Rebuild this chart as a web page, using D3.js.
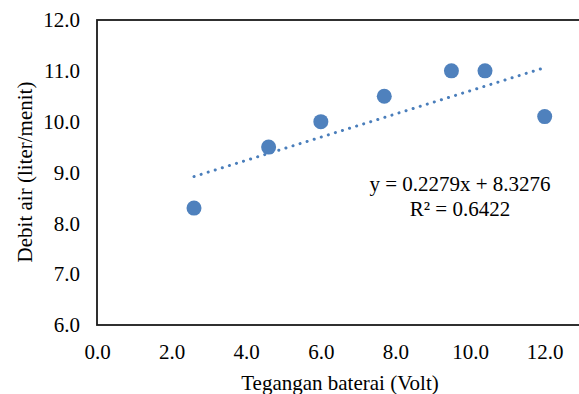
<!DOCTYPE html>
<html>
<head>
<meta charset="utf-8">
<script src="https://cdn.jsdelivr.net/npm/d3@7"></script>
<style>
  body { margin: 0; background: #fff; }
  svg text { font-family: "Liberation Serif", "Times New Roman", "DejaVu Serif", serif !important; fill: #000; }
</style>
</head>
<body>
<div id="main"></div>
<script>
// data
const tegangan = [2.6, 4.6, 6.0, 7.7, 9.5, 10.4, 12.0]
const debit = [8.3, 9.5, 10.0, 10.5, 11.0, 11.0, 10.1]
const xTicks = [0, 2, 4, 6, 8, 10, 12]
const yTicks = [6, 7, 8, 9, 10, 11, 12]
const slope = 0.2279
const intercept = 8.3276
const rSquared = 0.6422

const ctx = {
    w: 579,
    h: 394,
    left: 97,
    top: 20,
    bottom: 325,
    right: 582,
    fs: 21
}

let svg = d3.select('#main').append('svg')
    .attr('width', ctx.w)
    .attr('height', ctx.h)

let xScale = d3.scaleLinear().domain([0, 13]).range([ctx.left, ctx.right])
let yScale = d3.scaleLinear().domain([6, 12]).range([ctx.bottom, ctx.top])

// frame
svg.append('rect')
    .attr('x', ctx.left)
    .attr('y', ctx.top)
    .attr('width', ctx.right - ctx.left)
    .attr('height', ctx.bottom - ctx.top)
    .attr('fill', 'none')
    .attr('stroke', '#1a1a1a')
    .attr('stroke-width', 1.8)

// axes (labels only, no tick marks)
let xAxis = svg.append('g')
    .attr('transform', `translate(0,${ctx.bottom})`)
    .call(d3.axisBottom(xScale).tickValues(xTicks).tickFormat(d3.format('.1f')).tickSize(0).tickPadding(19))
xAxis.attr('font-family', null).attr('font-size', ctx.fs)
xAxis.select('.domain').remove()

let yAxis = svg.append('g')
    .attr('transform', `translate(${ctx.left},0)`)
    .call(d3.axisLeft(yScale).tickValues(yTicks).tickFormat(d3.format('.1f')).tickSize(0).tickPadding(17))
yAxis.attr('font-family', null).attr('font-size', ctx.fs)
yAxis.select('.domain').remove()

// trendline
let x0 = d3.min(tegangan), x1 = d3.max(tegangan)
svg.append('line')
    .attr('x1', xScale(x0))
    .attr('y1', yScale(slope * x0 + intercept))
    .attr('x2', xScale(x1))
    .attr('y2', yScale(slope * x1 + intercept))
    .attr('stroke', '#4a7ebb')
    .attr('stroke-width', 3)
    .attr('stroke-linecap', 'round')
    .attr('stroke-dasharray', '0.1 7.3')

// points
svg.selectAll('circle')
    .data(tegangan.map((t, i) => ({ x: t, y: debit[i] })))
    .join('circle')
    .attr('cx', d => xScale(d.x))
    .attr('cy', d => yScale(d.y))
    .attr('r', 7.5)
    .attr('fill', '#4f81bd')

// equation
svg.append('text')
    .attr('x', 460)
    .attr('y', 191)
    .attr('text-anchor', 'middle')
    .attr('font-size', ctx.fs)
    .text(`y = ${slope}x + ${intercept}`)
svg.append('text')
    .attr('x', 460)
    .attr('y', 216)
    .attr('text-anchor', 'middle')
    .attr('font-size', ctx.fs)
    .text(`R² = ${rSquared}`)

// axis titles
svg.append('text')
    .attr('x', 340)
    .attr('y', 390)
    .attr('text-anchor', 'middle')
    .attr('font-size', ctx.fs)
    .text('Tegangan baterai (Volt)')

svg.append('text')
    .attr('transform', 'translate(32,172) rotate(-90)')
    .attr('text-anchor', 'middle')
    .attr('font-size', ctx.fs)
    .text('Debit air (liter/menit)')
</script>
</body>
</html>
